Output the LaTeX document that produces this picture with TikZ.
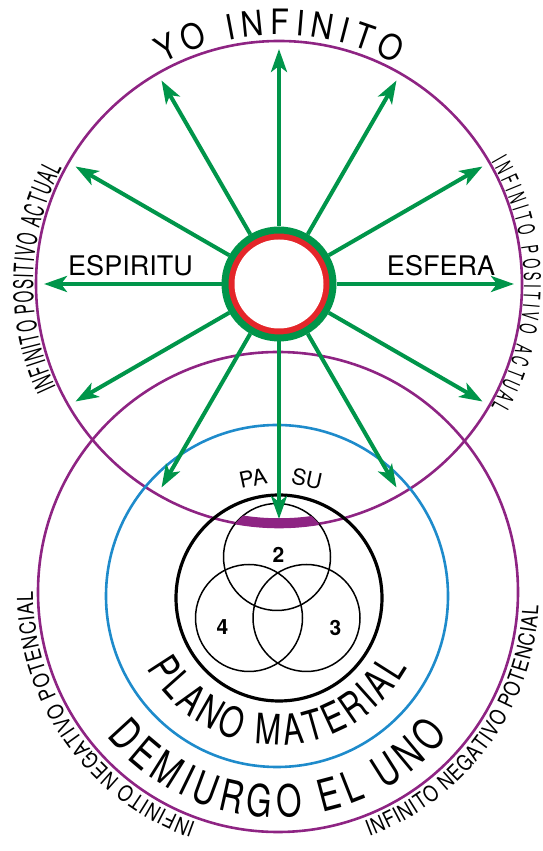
\documentclass[tikz,border=0pt]{standalone}
\usepackage{fontspec}
\setmainfont{TeX Gyre Heros}
\newfontfamily\headfont[FakeStretch=0.88]{TeX Gyre Heros}
\newfontfamily\planefont[FakeStretch=0.74]{TeX Gyre Heros}
\newfontfamily\rimfont[FakeStretch=0.56]{TeX Gyre Heros}
\newfontfamily\edgefont[FakeStretch=0.82]{TeX Gyre Heros}
\usepackage{tikz}
\usetikzlibrary{arrows.meta,positioning,decorations.text,calc}
\definecolor{leafgreen}{HTML}{00954A}
\definecolor{ringred}{HTML}{E4262A}
\definecolor{plum}{HTML}{8E2483}
\definecolor{skyblue}{HTML}{1E8BCB}
\newcommand{\arclabel}[6]{%
  \path[decorate, decoration={text along path, text align={fit to path}, text={|#5|#6}}]
    ([shift={(#3:#2)}]#1) arc[start angle=#3, end angle=#4, radius=#2];}
\tikzset{
  orbit/.style={draw=plum, line width=2.6pt},
  plane/.style={draw=skyblue, line width=2.6pt},
  core/.style={draw=black, line width=3.2pt},
  petal/.style={draw=black, line width=1.5pt},
  hub/.style={circle, draw=leafgreen, fill=ringred, line width=7pt, minimum size=108pt, inner sep=0pt},
  hubcore/.style={circle, fill=white, minimum size=89pt, inner sep=0pt},
  ray/.style={draw=leafgreen, line width=4pt, -{Stealth[length=23pt, width=16pt, inset=6pt]}},
  word/.style={font=\fontsize{27}{27}\selectfont, inner sep=0pt},
  tag/.style={font=\fontsize{22}{22}\selectfont, inner sep=0pt},
  num/.style={font=\bfseries\fontsize{21}{21}\selectfont, inner sep=0pt}
}
\begin{document}
\begin{tikzpicture}[x=1pt, y=1pt]
\useasboundingbox (0,0) rectangle (542,851);

% --- centres
\coordinate (T) at (279,567);
\coordinate (B) at (278,259);
\coordinate (C) at (277,255);
\coordinate (K) at (279,253);
\coordinate (V2) at (277,294);
\coordinate (V4) at (249,233);
\coordinate (V3) at (306.5,233);

% --- circles
\draw[orbit] (T) circle (243);
\draw[orbit] (B) circle (240);
\draw[plane] (C) circle (171);
\draw[core] (K) circle (103);
\foreach \v in {V2,V3,V4} \draw[petal] (\v) circle (53.5);
\begin{scope}
  \clip (V2) circle (53.5);
  \draw[plum, line width=9.5pt] (T) circle (239);
\end{scope}

% --- words
\node[word, anchor=base] (espiritu) at (130.5,575) {ESPIRITU};
\node[word, anchor=base] (esfera) at (441,575) {ESFERA};
\node[tag, rotate=12] (pa) at (253,373) {PA};
\node[tag, rotate=-12] (su) at (307,372) {SU};
\node[num] (n2) at (278.5,296) {2};
\node[num] (n4) at (222.5,223.5) {4};
\node[num] (n3) at (335.5,223.5) {3};

% --- curved texts
\arclabel{T}{249}{118}{62}{\headfont\fontsize{35}{35}\selectfont}{YO INFINITO}
\arclabel{T}{246}{205}{152}{\rimfont\fontsize{27}{27}\selectfont}{INFINITO POSITIVO ACTUAL}
\arclabel{T}{245}{30}{-30}{\rimfont\fontsize{23}{23}\selectfont}{INFINITO POSITIVO ACTUAL}
\arclabel{B}{245}{250.5}{180}{\edgefont\fontsize{22}{22}\selectfont}{INFINITO NEGATIVO POTENCIAL}
\arclabel{B}{261}{-69.5}{-3}{\edgefont\fontsize{22}{22}\selectfont}{INFINITO NEGATIVO POTENCIAL}
\arclabel{C}{149}{209}{331}{\planefont\fontsize{42}{42}\selectfont}{PLANO MATERIAL}
\arclabel{C}{221}{219.5}{321}{\planefont\fontsize{44}{44}\selectfont}{DEMIURGO EL UNO}

% --- rays
\node[hub] (hub) at (T) {};
\node[hubcore] (eye) at (hub.center) {};
\foreach \a in {0,30,...,330} {
  \coordinate (tip\a) at ([shift={(\a:235)}]T);
  \draw[ray] (hub.\a) -- (tip\a);
}
\end{tikzpicture}
\end{document}
